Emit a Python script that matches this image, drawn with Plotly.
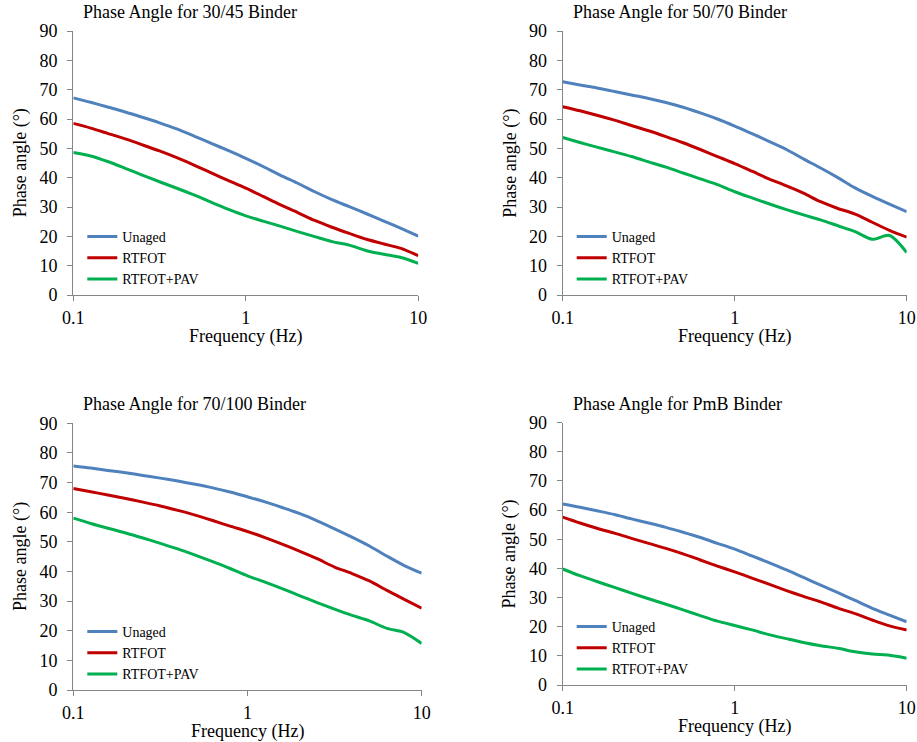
import plotly.graph_objects as go

freq = [0.1, 0.126, 0.158, 0.2, 0.251, 0.316, 0.398, 0.501, 0.631, 0.794, 1.0,
        1.26, 1.58, 2.0, 2.51, 3.16, 3.98, 5.01, 6.31, 7.94, 10.0]

series_names = ["Unaged", "RTFOT", "RTFOT+PAV"]
titles = ["Phase Angle for 30/45 Binder", "Phase Angle for 50/70 Binder",
          "Phase Angle for 70/100 Binder", "Phase Angle for PmB Binder"]

b3045_unaged = [67.2, 65.7, 64.1, 62.4, 60.6, 58.7, 56.6, 54.2, 51.7, 49.2, 46.6,
                43.8, 40.9, 38.1, 35.2, 32.5, 30.1, 27.7, 25.2, 22.7, 20.1]
b3045_rtfot = [58.5, 56.9, 55.1, 53.2, 51.2, 49.1, 46.8, 44.3, 41.6, 39.0, 36.4,
               33.6, 30.8, 28.1, 25.4, 23.1, 21.0, 19.0, 17.4, 15.9, 13.4]
b3045_pav = [48.6, 47.4, 45.5, 43.2, 40.9, 38.6, 36.4, 34.1, 31.6, 29.2, 27.0,
             25.2, 23.5, 21.6, 19.9, 18.2, 17.0, 15.1, 13.9, 12.8, 10.8]

b5070_unaged = [72.7, 71.6, 70.6, 69.4, 68.2, 67.0, 65.6, 64.0, 62.1, 60.0, 57.6,
                55.0, 52.4, 49.6, 46.4, 43.3, 40.0, 36.5, 33.6, 31.0, 28.4]
b5070_rtfot = [64.2, 62.8, 61.3, 59.6, 57.8, 56.0, 54.0, 51.9, 49.6, 47.2, 44.8,
               42.2, 39.6, 37.2, 34.7, 31.8, 29.5, 27.6, 24.8, 22.0, 19.7]
b5070_pav = [53.7, 52.0, 50.4, 48.8, 47.2, 45.4, 43.6, 41.6, 39.6, 37.6, 35.2,
             33.1, 31.1, 29.1, 27.3, 25.6, 23.6, 21.6, 19.0, 20.3, 14.5]

b70100_unaged = [75.6, 74.9, 74.1, 73.3, 72.4, 71.5, 70.5, 69.4, 68.2, 66.8, 65.2,
                 63.5, 61.6, 59.5, 57.1, 54.4, 51.6, 48.6, 45.2, 42.0, 39.4]
b70100_rtfot = [68.0, 66.9, 65.8, 64.6, 63.4, 62.1, 60.6, 59.0, 57.2, 55.3, 53.5,
                51.4, 49.2, 46.8, 44.3, 41.5, 39.3, 36.8, 33.6, 30.6, 27.6]
b70100_pav = [58.0, 56.2, 54.6, 53.0, 51.3, 49.5, 47.6, 45.5, 43.3, 41.0, 38.5,
              36.4, 34.2, 31.8, 29.5, 27.3, 25.2, 23.3, 20.8, 19.4, 15.7]

pmb_unaged = [62.1, 61.0, 59.8, 58.5, 57.0, 55.6, 54.1, 52.4, 50.6, 48.6, 46.6,
              44.3, 42.0, 39.5, 36.9, 34.3, 31.7, 29.0, 26.3, 24.0, 21.7]
pmb_rtfot = [57.6, 55.6, 53.8, 52.1, 50.3, 48.6, 46.9, 45.0, 42.9, 40.8, 38.8,
             36.7, 34.6, 32.4, 30.4, 28.5, 26.4, 24.5, 22.3, 20.3, 18.9]
pmb_pav = [39.8, 37.5, 35.5, 33.5, 31.5, 29.6, 27.7, 25.8, 23.8, 21.9, 20.4,
           18.9, 17.3, 15.9, 14.6, 13.5, 12.6, 11.4, 10.6, 10.2, 9.2]

panels = [
    [b3045_unaged, b3045_rtfot, b3045_pav],
    [b5070_unaged, b5070_rtfot, b5070_pav],
    [b70100_unaged, b70100_rtfot, b70100_pav],
    [pmb_unaged, pmb_rtfot, pmb_pav],
]

colors = ["#4F81BD", "#C00000", "#00B050"]
W, H = 917, 742
FONT = "Liberation Serif"

# plot-area boxes in pixels (left, right, top, bottom)
boxes = [(73.3, 418.3, 31, 295), (562.7, 906.7, 31, 295),
         (73.3, 421.7, 423.3, 690), (562.7, 906.7, 422.7, 685)]

fig = go.Figure()
layout = dict(width=W, height=H, margin=dict(l=0, r=0, t=0, b=0, autoexpand=False),
              paper_bgcolor="white", plot_bgcolor="white",
              font=dict(family=FONT, size=18, color="black"), annotations=[])

for i, (series, box) in enumerate(zip(panels, boxes)):
    n = i + 1
    sfx = "" if n == 1 else str(n)
    l, r, t, b = box
    xd = [l / W, r / W]
    yd = [1 - b / H, 1 - t / H]
    legname = "legend" + sfx
    for name, vals, col in zip(series_names, series, colors):
        fig.add_trace(go.Scatter(x=freq, y=vals, mode="lines", name=name,
                                 line=dict(color=col, width=3, shape="spline", smoothing=0.8),
                                 xaxis="x" + sfx, yaxis="y" + sfx, legend=legname,
                                 showlegend=True))
    axcommon = dict(showline=True, linecolor="#868686", linewidth=1.3, ticks="outside",
                    tickcolor="#868686", ticklen=5, tickwidth=1.3, showgrid=False,
                    zeroline=False, automargin=False,
                    tickfont=dict(family=FONT, size=18, color="black"))
    layout["xaxis" + sfx] = dict(domain=xd, type="log", range=[-1, 1],
                                 tickvals=[0.1, 1, 10], ticktext=["0.1", "1", "10"],
                                 anchor="y" + sfx, ticklabelstandoff=1, **axcommon)
    layout["yaxis" + sfx] = dict(domain=yd, range=[0, 90], dtick=10, tick0=0,
                                 anchor="x" + sfx, ticklabelstandoff=6, **axcommon)
    layout[legname] = dict(x=(l + 9) / W, y=1 - (b - 74) / H, xanchor="left", yanchor="top",
                           bgcolor="rgba(0,0,0,0)", borderwidth=0,
                           font=dict(family=FONT, size=14, color="black"),
                           tracegroupgap=0, itemwidth=30)
    # panel title
    layout["annotations"].append(dict(text=titles[i], xref="paper", yref="paper",
                                      x=(l + 8) / W, y=1 - (t - 19) / H, xanchor="left",
                                      yanchor="middle", showarrow=False,
                                      font=dict(family=FONT, size=18, color="black")))
    # axis titles
    layout["annotations"].append(dict(text="Frequency (Hz)", xref="paper", yref="paper",
                                      x=((l + r) / 2) / W, y=1 - (b + 41) / H,
                                      xanchor="center", yanchor="middle", showarrow=False,
                                      font=dict(family=FONT, size=18, color="black")))
    layout["annotations"].append(dict(text="Phase angle (°)", xref="paper", yref="paper",
                                      x=(l - 53) / W, y=1 - ((t + b) / 2) / H, textangle=-90,
                                      xanchor="center", yanchor="middle", showarrow=False,
                                      font=dict(family=FONT, size=18, color="black")))

fig.update_layout(**layout)
fig.write_html("out.html")
